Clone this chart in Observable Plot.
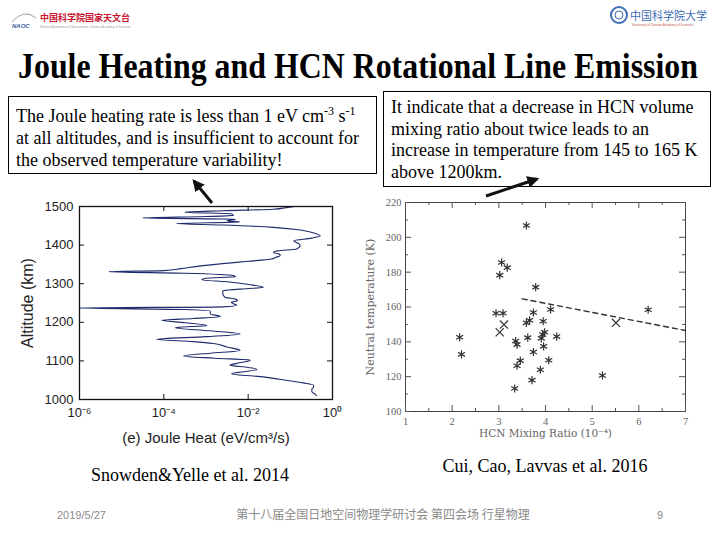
<!DOCTYPE html>
<html>
<head>
<meta charset="utf-8">
<script src="https://cdn.jsdelivr.net/npm/d3@7"></script>
<script src="https://cdn.jsdelivr.net/npm/@observablehq/plot@0.6"></script>
<style>
  body { margin: 0; background: #fff; width: 720px; height: 540px; overflow: hidden; position: relative; }
  #joule { position: absolute; left: 0; top: 190px; }
  #hcn { position: absolute; left: 355px; top: 190px; }
  #slide { position: absolute; left: 0; top: 0; pointer-events: none; }
  .serif { font-family: "Liberation Serif", "Times New Roman", serif; }
</style>
</head>
<body>
<div id="joule"></div>
<div id="hcn"></div>
<svg id="slide" width="720" height="540" xmlns="http://www.w3.org/2000/svg">
  <defs>
    <marker id="head" viewBox="0 0 10 10" refX="8" refY="5" markerWidth="4" markerHeight="4" orient="auto">
      <path d="M0,0 L10,5 L0,10 z" fill="#111"/>
    </marker>
  </defs>
  <!-- institute logos -->
  <path d="M12,22 Q24,8 36,18" fill="none" stroke="#9aa0aa" stroke-width="1"/>
  <text x="12" y="28" font-family="Liberation Sans, sans-serif" font-size="6" font-style="italic" font-weight="bold" fill="#3a5aa0">NAOC</text>
  <text x="40" y="21" font-family="Noto Sans CJK SC" font-size="9" font-weight="bold" fill="#c8142e">中国科学院国家天文台</text>
  <text x="40" y="28" font-family="Liberation Sans, sans-serif" font-size="3" fill="#9a9a9a">National Astronomical Observatories, Chinese Academy of Sciences</text>
  <circle cx="619" cy="15" r="8" fill="none" stroke="#3d6db5" stroke-width="2"/>
  <circle cx="619" cy="15" r="4" fill="none" stroke="#3d6db5" stroke-width="1"/>
  <text x="630" y="20" font-family="Noto Sans CJK SC" font-size="11" fill="#3d6db5">中国科学院大学</text>
  <text x="632" y="26" font-family="Liberation Sans, sans-serif" font-size="3.2" fill="#c85050">University of Chinese Academy of Sciences</text>

  <!-- title (narrowed to the slide width in the script below) -->
  <text id="title" class="serif" x="0" y="0" text-anchor="middle" font-size="35" font-weight="bold" fill="#000" transform="translate(358,78)">Joule Heating and HCN Rotational Line Emission</text>

  <!-- note boxes -->
  <rect x="8.5" y="96.5" width="368" height="77" fill="none" stroke="#000" stroke-width="1"/>
  <text class="serif" font-size="18" fill="#000">
    <tspan x="16" y="122">The Joule heating rate is less than 1 eV cm<tspan font-size="12" dy="-7">-3</tspan><tspan dy="7"> s</tspan><tspan font-size="12" dy="-7">-1</tspan></tspan>
    <tspan x="16" y="144">at all altitudes, and is insufficient to account for</tspan>
    <tspan x="16" y="166">the observed temperature variability!</tspan>
  </text>
  <rect x="383.5" y="91.5" width="327" height="95" fill="none" stroke="#000" stroke-width="1"/>
  <text class="serif" font-size="18" fill="#000">
    <tspan x="391" y="113">It indicate that a decrease in HCN volume</tspan>
    <tspan x="391" y="135">mixing ratio about twice leads to an</tspan>
    <tspan x="391" y="156">increase in temperature from 145 to 165 K</tspan>
    <tspan x="391" y="178">above 1200km.</tspan>
  </text>

  <!-- pointers from the notes to the panels -->
  <line x1="212" y1="203" x2="194" y2="181" stroke="#111" stroke-width="3" marker-end="url(#head)"/>
  <line x1="486" y1="196" x2="537" y2="179" stroke="#111" stroke-width="3" marker-end="url(#head)"/>

  <!-- sources -->
  <text class="serif" x="190" y="481" text-anchor="middle" font-size="18" fill="#000">Snowden&amp;Yelle et al. 2014</text>
  <text class="serif" x="545" y="472" text-anchor="middle" font-size="18" fill="#000">Cui, Cao, Lavvas et al. 2016</text>

  <!-- footer -->
  <text x="57" y="519" font-family="Liberation Sans, sans-serif" font-size="11" fill="#8a8a8a">2019/5/27</text>
  <text x="383" y="519" text-anchor="middle" font-family="Noto Sans CJK SC" font-size="12" fill="#8a8a8a">第十八届全国日地空间物理学研讨会  第四会场  行星物理</text>
  <text x="657" y="519" font-family="Liberation Sans, sans-serif" font-size="11" fill="#8a8a8a">9</text>
</svg>
<script>
// Joule heating profile: altitude (km) and heating rate (eV/cm^3/s)
const altitude = [1500, 1497, 1493, 1489, 1485, 1481, 1477, 1474, 1470, 1467, 1463, 1460, 1456, 1452, 1446, 1438,
  1430, 1424, 1418, 1411, 1404, 1398, 1390, 1385, 1381, 1376, 1373, 1368, 1364, 1358, 1352, 1345, 1339, 1334, 1331,
  1327, 1321, 1318, 1314, 1310, 1305, 1298, 1291, 1286, 1282, 1273, 1265, 1260, 1256, 1252, 1248, 1244, 1240, 1237,
  1233, 1229, 1222, 1215, 1210, 1205, 1199, 1192, 1186, 1178, 1170, 1163, 1156, 1150, 1145, 1136, 1127, 1120, 1113,
  1107, 1102, 1095, 1089, 1083, 1078, 1072, 1067, 1058, 1050, 1043, 1037, 1032, 1027, 1020, 1014, 1010];
const jouleHeat = [0.126, 0.0794, 0.0398, 2.51e-3, 3.16e-4, 3.98e-3, 4.47e-3, 1.0e-3, 3.16e-5, 5.01e-3, 3.16e-3, 6.31e-3,
  2.0e-4, 2.51e-3, 0.0398, 0.2, 0.398, 0.513, 0.316, 0.120, 0.158, 0.170, 0.141, 0.0501, 0.0398, 0.0562, 0.0575, 0.0447,
  0.0355, 0.01, 2.51e-3, 6.31e-4, 2.51e-4, 1.0e-4, 5.0e-6, 3.16e-4, 4.47e-3, 5.01e-3, 1.0e-3, 7.94e-4, 3.16e-3, 0.01,
  0.0229, 6.31e-3, 2.51e-3, 2.51e-3, 2.82e-3, 5.01e-3, 5.62e-3, 3.98e-3, 4.47e-3, 5.37e-3, 2.51e-3, 1.0e-6, 3.16e-4,
  1.26e-3, 1.26e-3, 2.19e-3, 5.01e-4, 8.91e-5, 3.16e-4, 1.05e-3, 1.86e-4, 1.26e-3, 6.46e-3, 1.0e-3, 6.76e-5, 5.01e-4,
  1.51e-3, 3.16e-3, 6.46e-3, 1.26e-3, 2.95e-4, 1.58e-3, 0.0112, 6.31e-3, 3.72e-3, 0.01, 0.0162, 7.94e-3, 4.07e-3,
  0.0251, 0.0794, 0.2, 0.355, 0.355, 0.324, 0.324, 0.389, 0.417];
const heatTicks = [1e-6, 1e-4, 1e-2, 1];
const heatTickLabels = ["10⁻⁶", "10⁻⁴", "10⁻²", "10⁰"];
const altTicks = [1000, 1100, 1200, 1300, 1400, 1500];

// HCN mixing ratio (1e-4) versus neutral temperature (K)
const hcnRatio = [2.16, 2.2, 3.59, 3.06, 3.18, 3.02, 3.79, 2.94, 3.09, 3.74, 4.11, 3.59, 3.66, 3.95, 3.98, 3.94,
  3.91, 3.62, 4.24, 3.36, 3.39, 3.96, 3.74, 3.46, 3.39, 4.07, 3.89, 3.71, 3.34, 5.22, 6.2, 3.11, 3.02, 5.51];
const neutralTemp = [142.6, 132.8, 206.8, 185.6, 182.6, 178.3, 171.4, 156.4, 156.4, 156.8, 158.6, 150.9, 152.4, 151.8,
  145.5, 144.2, 142.0, 142.4, 143.0, 140.5, 138.4, 137.4, 134.2, 129.2, 126.3, 129.4, 124.0, 118.0, 113.2, 120.7,
  158.4, 149.9, 145.5, 150.9];
const pointKind = ["asterisk", "asterisk", "asterisk", "asterisk", "asterisk", "asterisk", "asterisk", "asterisk",
  "asterisk", "asterisk", "asterisk", "asterisk", "asterisk", "asterisk", "asterisk", "asterisk", "asterisk",
  "asterisk", "asterisk", "asterisk", "asterisk", "asterisk", "asterisk", "asterisk", "asterisk", "asterisk",
  "asterisk", "asterisk", "asterisk", "asterisk", "asterisk", "times", "times", "times"];
const fitRatio = [3.5, 7];
const fitTemp = [164.7, 146.5];
const ratioMajor = [1, 2, 3, 4, 5, 6, 7];
const ratioMinor = [1.5, 2.5, 3.5, 4.5, 5.5, 6.5];
const tempMajor = [100, 120, 140, 160, 180, 200, 220];
const tempMinor = [110, 130, 150, 170, 190, 210];

// squeeze the title horizontally so it spans 680px
{
  const t = document.getElementById("title");
  const w = t.getComputedTextLength();
  if (w > 0) t.setAttribute("transform", `translate(358,78) scale(${680 / w},1)`);
}

// ---- Joule heat panel ----
const profile = altitude.map((a, i) => ({alt: a, heat: jouleHeat[i]}));
const jW = 345, jH = 260, jL = 79, jR = 13, jT = 16, jB = 51;
const jPW = jW - jL - jR, jPH = jH - jT - jB;
const jouleChart = Plot.plot({
  width: jW, height: jH,
  marginLeft: jL, marginRight: jR, marginTop: jT, marginBottom: jB,
  style: {background: "transparent", fontFamily: "'Liberation Sans', Arial, sans-serif", fontSize: "13px", color: "#222"},
  x: {type: "log", domain: [1e-6, 1]},
  y: {domain: [1000, 1500]},
  marks: [
    Plot.line(profile, {x: "heat", y: "alt", curve: "monotone-y", stroke: "#1f2b6c", strokeWidth: 1.1, clip: true}),
    Plot.frame({stroke: "#111", strokeWidth: 1.3}),
    Plot.tickX(heatTicks, {x: d => d, insetTop: jPH - 5, stroke: "#111"}),
    Plot.tickX(heatTicks, {x: d => d, insetBottom: jPH - 5, stroke: "#111"}),
    Plot.tickY(altTicks, {y: d => d, insetRight: jPW - 5, stroke: "#111"}),
    Plot.tickY(altTicks, {y: d => d, insetLeft: jPW - 5, stroke: "#111"}),
    Plot.axisX(heatTicks, {anchor: "bottom", tickSize: 0, tickPadding: 8, fontSize: 13,
      tickFormat: d => heatTickLabels[heatTicks.indexOf(d)], label: null}),
    Plot.axisY(altTicks, {anchor: "left", tickSize: 0, tickPadding: 6, fontSize: 13, tickFormat: d => String(d), label: null}),
    Plot.text(["Altitude (km)"], {frameAnchor: "left", dx: -52, rotate: -90, textAnchor: "middle", fontSize: 16, fill: "#222"}),
    Plot.text(["(e) Joule Heat (eV/cm³/s)"], {frameAnchor: "bottom", dy: 39, lineAnchor: "middle", textAnchor: "middle", fontSize: 15, fill: "#222"})
  ]
});
document.getElementById("joule").append(jouleChart);

// ---- HCN panel ----
const samples = hcnRatio.map((r, i) => ({ratio: r, temp: neutralTemp[i], kind: pointKind[i]}));
const fit = fitRatio.map((r, i) => ({ratio: r, temp: fitTemp[i]}));
const hW = 365, hH = 255, hL = 50, hR = 35, hT = 12, hB = 34;
const hPW = hW - hL - hR, hPH = hH - hT - hB;
const tickInk = "#555";
const hcnChart = Plot.plot({
  width: hW, height: hH,
  marginLeft: hL, marginRight: hR, marginTop: hT, marginBottom: hB,
  style: {background: "transparent", fontFamily: "'Liberation Serif', serif", fontSize: "10.5px", color: "#666"},
  x: {domain: [1, 7]},
  y: {domain: [100, 220]},
  symbol: {type: "identity"},
  marks: [
    Plot.frame({stroke: "#444", strokeWidth: 1}),
    Plot.tickX(ratioMajor, {x: d => d, insetTop: hPH - 6, stroke: tickInk}),
    Plot.tickX(ratioMajor, {x: d => d, insetBottom: hPH - 6, stroke: tickInk}),
    Plot.tickX(ratioMinor, {x: d => d, insetTop: hPH - 3, stroke: tickInk}),
    Plot.tickX(ratioMinor, {x: d => d, insetBottom: hPH - 3, stroke: tickInk}),
    Plot.tickY(tempMajor, {y: d => d, insetRight: hPW - 6, stroke: tickInk}),
    Plot.tickY(tempMajor, {y: d => d, insetLeft: hPW - 6, stroke: tickInk}),
    Plot.tickY(tempMinor, {y: d => d, insetRight: hPW - 3, stroke: tickInk}),
    Plot.tickY(tempMinor, {y: d => d, insetLeft: hPW - 3, stroke: tickInk}),
    Plot.axisX(ratioMajor, {anchor: "bottom", tickSize: 0, tickPadding: 6, tickFormat: d => String(d), label: null}),
    Plot.axisY(tempMajor, {anchor: "left", tickSize: 0, tickPadding: 4, tickFormat: d => String(d), label: null}),
    Plot.line(fit, {x: "ratio", y: "temp", stroke: "#333", strokeWidth: 1.4, strokeDasharray: "5,4"}),
    Plot.dot(samples, {x: "ratio", y: "temp", symbol: "kind", r: 3.8, stroke: "#333", strokeWidth: 1.2}),
    Plot.text(["Neutral temperature (K)"], {frameAnchor: "left", dx: -35, rotate: -90, textAnchor: "middle", fontSize: 11,
      fontFamily: "'DejaVu Serif', serif", fill: "#666"}),
    Plot.text(["HCN Mixing Ratio (10⁻⁴)"], {frameAnchor: "bottom", dy: 22, lineAnchor: "middle", textAnchor: "middle", fontSize: 10.5,
      fontFamily: "'DejaVu Serif', serif", fill: "#666"})
  ]
});
document.getElementById("hcn").append(hcnChart);
</script>
</body>
</html>
